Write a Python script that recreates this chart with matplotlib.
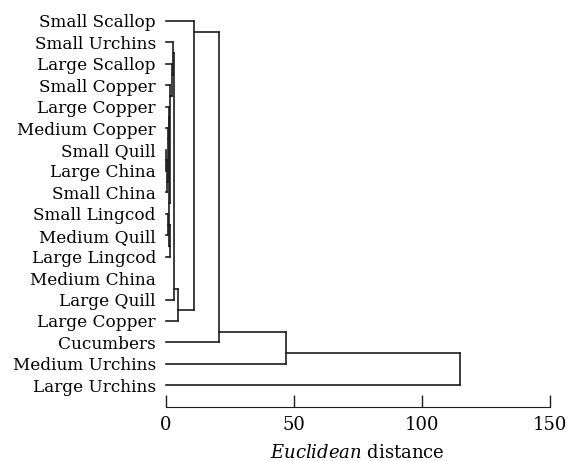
import matplotlib
matplotlib.use("Agg")
import matplotlib.pyplot as plt

plt.rcParams["font.family"] = ["DejaVu Serif"]
plt.rcParams["mathtext.fontset"] = "dejavuserif"

# leaves, top to bottom
labels = [
    "Small Scallop", "Small Urchins", "Large Scallop", "Small Copper",
    "Large Copper", "Medium Copper", "Small Quill", "Large China",
    "Small China", "Small Lingcod", "Medium Quill", "Large Lingcod",
    "Medium China", "Large Quill", "Large Copper", "Cucumbers",
    "Medium Urchins", "Large Urchins",
]

# merges: upper child, lower child, distance (new cluster ids start at 18)
merge_upper = [6, 18, 5, 4, 9, 22, 21, 3, 2, 1, 27, 28, 0, 30, 31, 32]
merge_lower = [7, 8, 19, 20, 10, 11, 23, 24, 25, 26, 13, 14, 29, 15, 16, 17]
merge_dist = [0.3, 0.6, 0.9, 1.1, 0.8, 1.6, 1.3, 1.5, 2.3, 2.9, 3.1, 4.8,
              11.2, 20.9, 47.0, 114.9]

n = len(labels)
pos = {i: float(i) for i in range(n)}
height = {i: 0.0 for i in range(n)}
top_leaf = {i: i for i in range(n)}

fig = plt.figure(figsize=(5.79, 4.61), dpi=100)
ax = fig.add_axes([0.2862, 0.1178, 0.6637, 0.860])

col = "#1e1e1e"
lw = 1.2
for k, (u, l, h) in enumerate(zip(merge_upper, merge_lower, merge_dist)):
    c = n + k
    ax.plot([height[u], h], [pos[u], pos[u]], color=col, lw=lw, clip_on=False)
    ax.plot([height[l], h], [pos[l], pos[l]], color=col, lw=lw, clip_on=False)
    ax.plot([h, h], [pos[u], pos[l]], color=col, lw=lw, clip_on=False)
    top_leaf[c] = top_leaf[u]
    pos[c] = top_leaf[l] - 0.5
    height[c] = h

ax.set_xlim(0, 150)
ax.set_ylim(18, -0.5)
ax.set_yticks(range(n))
ax.set_yticklabels(labels, fontsize=12.2)
ax.tick_params(axis="y", length=0, pad=7)
ax.set_xticks([0, 50, 100, 150])
ax.tick_params(axis="x", direction="in", length=9, width=1.0, labelsize=13,
               pad=7, color=col)
for s in ["top", "right", "left"]:
    ax.spines[s].set_visible(False)
ax.spines["bottom"].set_bounds(0, 150)
ax.spines["bottom"].set_color(col)
ax.set_xlabel(r"$\it{Euclidean}$ distance", fontsize=13, labelpad=7)

fig.savefig("out.png", dpi=100)
